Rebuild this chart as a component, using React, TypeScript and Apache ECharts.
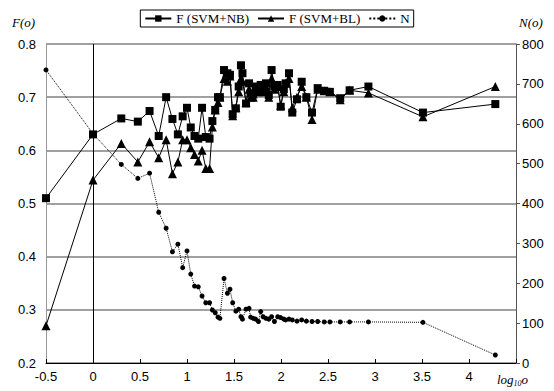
import React, { useEffect, useRef } from "react";
import * as echarts from "echarts";

// log10(o) positions shared by all series
const X = [
  -0.5, 0, 0.301, 0.477, 0.602, 0.699, 0.778, 0.845, 0.903, 0.954, 1.0,
  1.04, 1.08, 1.12, 1.16, 1.2, 1.24, 1.27, 1.3, 1.33, 1.35,
  1.394, 1.43, 1.457, 1.486, 1.52, 1.55, 1.574, 1.59, 1.628, 1.66,
  1.677, 1.705, 1.73, 1.76, 1.784, 1.81, 1.84, 1.87, 1.9, 1.93,
  1.965, 1.997, 2.03, 2.05, 2.085, 2.12, 2.17, 2.22, 2.27, 2.33,
  2.39, 2.46, 2.52, 2.63, 2.73, 2.93, 3.51, 4.28,
];

const F_NB = [
  0.51, 0.63, 0.66, 0.654, 0.674, 0.627, 0.7, 0.659, 0.63, 0.664, 0.68,
  0.643, 0.627, 0.622, 0.68, 0.625, 0.622, 0.655, 0.676, 0.7, 0.7,
  0.751, 0.745, 0.742, 0.668, 0.679, 0.72, 0.76, 0.745, 0.688, 0.726,
  0.707, 0.705, 0.72, 0.715, 0.723, 0.718, 0.726, 0.704, 0.751, 0.72,
  0.723, 0.682, 0.715, 0.726, 0.745, 0.671, 0.696, 0.729, 0.7, 0.671,
  0.717, 0.712, 0.71, 0.698, 0.713, 0.72, 0.671, 0.687,
];

const F_BL = [
  0.27, 0.544, 0.613, 0.578, 0.616, 0.586, 0.62, 0.556, 0.578, 0.62, 0.62,
  0.605, 0.592, 0.58, 0.6, 0.566, 0.566, 0.644, 0.676, 0.69, 0.7,
  0.735, 0.73, 0.74, 0.665, 0.68, 0.71, 0.735, 0.73, 0.69, 0.715,
  0.7, 0.7, 0.715, 0.71, 0.72, 0.71, 0.72, 0.7, 0.735, 0.715,
  0.72, 0.685, 0.71, 0.726, 0.735, 0.68, 0.7, 0.72, 0.7, 0.658,
  0.715, 0.712, 0.71, 0.695, 0.713, 0.708, 0.663, 0.72,
];

const N_VALS = [
  735, 575, 498, 463, 476, 378, 338, 279, 298, 239, 281,
  223, 193, 191, 168, 151, 151, 133, 126, 115, 112,
  212, 175, 185, 151, 130, 135, 116, 110, 135, 137,
  115, 112, 110, 104, 129, 116, 112, 110, 116, 104,
  116, 114, 110, 108, 110, 108, 105, 108, 105, 104,
  104, 103, 103, 103, 103, 103, 102, 20,
];

const SERIES_NAMES = ["F (SVM+NB)", "F (SVM+BL)", "N"];

export default function App() {
  const ref = useRef<HTMLDivElement>(null);

  useEffect(() => {
    if (!ref.current) return;
    const chart = echarts.init(ref.current, undefined, { renderer: "svg" });
    const sans = "Liberation Sans";
    const serif = "Liberation Serif";
    chart.setOption({
      animation: false,
      backgroundColor: "#fff",
      grid: { left: 46, right: 38, top: 44, bottom: 28 },
      legend: {
        top: 10,
        left: "center",
        data: SERIES_NAMES,
        borderColor: "#000",
        borderWidth: 1,
        borderRadius: 0,
        padding: [2, 4, 2, 4],
        itemGap: 8,
        itemWidth: 26,
        itemHeight: 8,
        textStyle: { fontFamily: serif, fontSize: 13, color: "#000" },
      },
      xAxis: {
        type: "value",
        min: -0.5,
        max: 4.5,
        interval: 0.5,
        axisLine: { onZero: false, lineStyle: { color: "#000", width: 1 } },
        axisTick: { inside: true, length: 4, lineStyle: { color: "#000" } },
        splitLine: { show: false },
        axisLabel: {
          color: "#000",
          fontFamily: sans,
          fontSize: 13,
          margin: 7,
          formatter: (v: number) => (v > 4.2 ? "" : String(v)),
        },
      },
      yAxis: [
        {
          type: "value",
          min: 0.2,
          max: 0.8,
          interval: 0.1,
          axisLine: { show: true, onZero: false, lineStyle: { color: "#999", width: 1 } },
          axisTick: { show: false },
          splitLine: { show: true, lineStyle: { color: "#808080", width: 1.5 } },
          axisLabel: {
            color: "#000",
            fontFamily: sans,
            fontSize: 13,
            margin: 10,
            formatter: (v: number) => v.toFixed(1),
          },
        },
        {
          type: "value",
          min: 0,
          max: 800,
          interval: 100,
          position: "right",
          axisLine: { show: true, onZero: false, lineStyle: { color: "#555", width: 1 } },
          axisTick: { show: true, inside: false, length: 4, lineStyle: { color: "#555" } },
          splitLine: { show: false },
          axisLabel: { color: "#000", fontFamily: sans, fontSize: 13, margin: 6 },
        },
      ],
      series: [
        {
          name: SERIES_NAMES[0],
          type: "line",
          data: X.map((x, i) => [x, F_NB[i]]),
          symbol: "rect",
          symbolSize: 8,
          lineStyle: { color: "#000", width: 1 },
          itemStyle: { color: "#000" },
          z: 3,
          markLine: {
            silent: true,
            symbol: "none",
            label: { show: false },
            lineStyle: { color: "#000", type: "solid", width: 1 },
            data: [{ xAxis: 0 }],
          },
        },
        {
          name: SERIES_NAMES[1],
          type: "line",
          data: X.map((x, i) => [x, F_BL[i]]),
          symbol: "triangle",
          symbolSize: 9,
          lineStyle: { color: "#000", width: 1 },
          itemStyle: { color: "#000" },
          z: 3,
        },
        {
          name: SERIES_NAMES[2],
          type: "line",
          yAxisIndex: 1,
          data: X.map((x, i) => [x, N_VALS[i]]),
          symbol: "circle",
          symbolSize: 5,
          lineStyle: { color: "#000", width: 1, type: "dotted" },
          itemStyle: { color: "#000" },
          z: 2,
        },
      ],
      graphic: [
        {
          type: "text",
          left: 12,
          top: 16,
          style: { text: "F(o)", font: `italic 13px ${serif}`, fill: "#000" },
        },
        {
          type: "text",
          left: 519,
          top: 16,
          style: { text: "N(o)", font: `italic 13px ${serif}`, fill: "#000" },
        },
        {
          type: "text",
          left: 497,
          top: 373,
          style: {
            text: "{a|log}{b|10}{a|o}",
            rich: {
              a: { fontFamily: serif, fontStyle: "italic", fontSize: 13, fill: "#000", verticalAlign: "top" },
              b: { fontFamily: serif, fontStyle: "italic", fontSize: 8, fill: "#000", padding: [6, 0, 0, 0] },
            },
          },
        },
      ],
    });
    return () => chart.dispose();
  }, []);

  return (
    <div
      ref={ref}
      style={{ position: "fixed", left: 0, top: 0, width: 554, height: 391 }}
    />
  );
}
